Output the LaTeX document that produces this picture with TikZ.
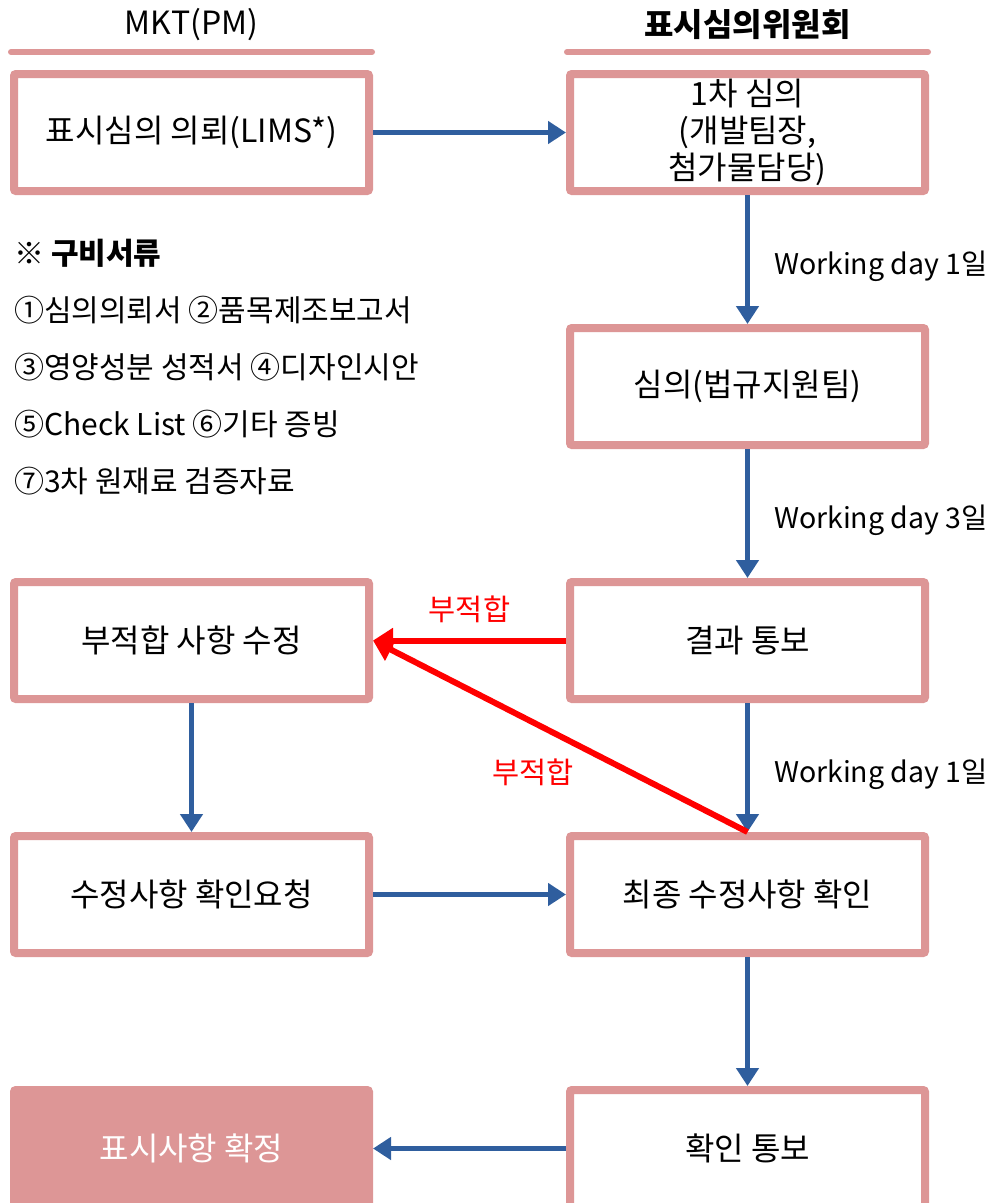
\documentclass[tikz,border=0pt]{standalone}
\usepackage{fontspec}
\setmainfont{Noto Sans CJK KR}
\usetikzlibrary{arrows.meta, positioning}
\definecolor{rosy}{RGB}{221,150,150}
\definecolor{flowblue}{RGB}{47,94,158}

\begin{document}
\begin{tikzpicture}[x=1pt, y=1pt, node distance=129pt and 193pt,
    stage/.style={draw=rosy, line width=8pt, rounded corners=2pt, fill=white,
        minimum width=355pt, minimum height=117pt, align=center,
        font=\fontsize{32}{37}\selectfont},
    done/.style={stage, fill=rosy, text=white},
    head/.style={inner sep=0pt, font=\fontsize{32}{36}\selectfont},
    rule/.style={draw=rosy, line width=6pt, line cap=round},
    flow/.style={draw=flowblue, line width=5pt, -{Triangle[length=18pt,width=22pt]}},
    nogo/.style={draw=red, line width=6pt, -{Triangle[length=20pt,width=24pt]}},
    days/.style={inner sep=0pt, font=\fontsize{28.5}{32}\selectfont},
    warn/.style={text=red, inner sep=0pt, font=\fontsize{29.5}{32}\selectfont},
    list/.style={inner sep=0pt, align=left, font=\fontsize{30}{57}\selectfont}]

        \useasboundingbox (0,0) rectangle (992,-1203);

        % MKT(PM) column and committee column
        \node[stage] (request) at (191.5,-132.5) {표시심의 의뢰(LIMS*)};
        \node[stage] (review) [right = of request] {1차 심의\\(개발팀장,\\첨가물담당)};
        \node[stage] (legal) [below = of review] {심의(법규지원팀)};
        \node[stage] (result) [below = of legal] {결과 통보};
        \node[stage] (recheck) [below = of result] {최종 수정사항 확인};
        \node[stage] (notice) [below = of recheck] {확인 통보};

        \node[stage] (fix) [left = of result] {부적합 사항 수정};
        \node[stage] (askcheck) [left = of recheck] {수정사항 확인요청};
        \node[done] (fixed) [left = of notice] {표시사항 확정};

        \node[head] (mkt) at ([yshift=45pt]request.north) {MKT(PM)};
        \node[head] (board) at ([yshift=45pt]review.north) {\textbf{표시심의위원회}};
        \draw[rule] ([shift={(1pt,18pt)}]request.north west) -- ([shift={(-1pt,18pt)}]request.north east);
        \draw[rule] ([shift={(1pt,18pt)}]review.north west) -- ([shift={(-1pt,18pt)}]review.north east);

        \node[list, anchor=north west] (papers) at ([shift={(4pt,-44pt)}]request.south west)
            {\textbf{※ 구비서류}\\①심의의뢰서 ②품목제조보고서\\③영양성분 성적서 ④디자인시안\\⑤Check List ⑥기타 증빙\\⑦3차 원재료 검증자료};

        \draw[flow] (request) -- (review);
        \draw[flow] (review) -- node[days, right=24pt, yshift=-7pt] {Working day 1일} (legal);
        \draw[flow] (legal) -- node[days, right=24pt, yshift=-7pt] {Working day 3일} (result);
        \draw[flow] (result) -- node[days, right=24pt, yshift=-7pt] {Working day 1일} (recheck);
        \draw[flow] (fix) -- (askcheck);
        \draw[flow] (askcheck) -- (recheck);
        \draw[flow] (recheck) -- (notice);
        \draw[flow] (notice) -- (fixed);

        \draw[nogo] (result) -- node[warn, above=15pt] {부적합} (fix);
        \draw[nogo] (recheck.north) -- node[warn, pos=0.573, yshift=-50pt] {부적합} (fix.east);

    \end{tikzpicture}
\end{document}
